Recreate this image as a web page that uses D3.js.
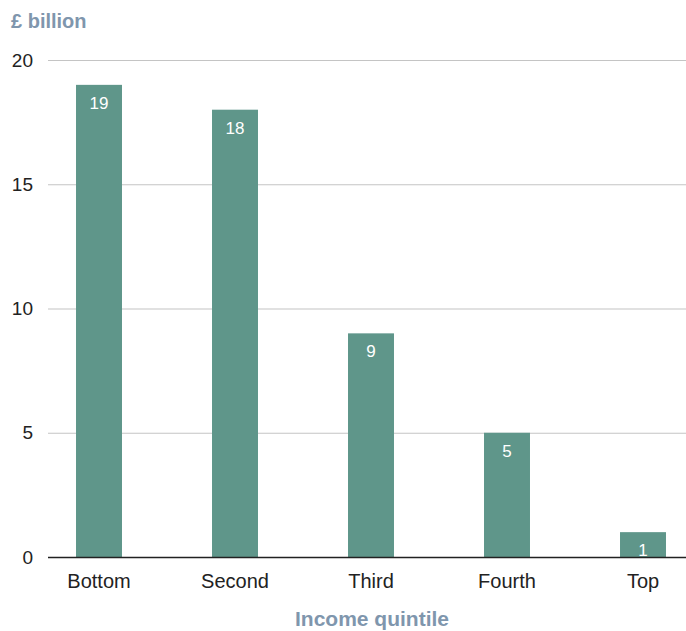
<!DOCTYPE html>
<html>
<head>
<meta charset="utf-8">
<script src="https://cdn.jsdelivr.net/npm/d3@7"></script>
<style>
  html, body { margin: 0; padding: 0; background: #fff; }
  svg { display: block; font-family: "Liberation Sans", Arial, Helvetica, sans-serif; }
</style>
</head>
<body>
<svg id="chart" width="686" height="631"></svg>
<script>
// Benefit spending by income quintile, £ billion
const quintiles = ["Bottom", "Second", "Third", "Fourth", "Top"];
const spending = [19, 18, 9, 5, 1];
const yTicks = [0, 5, 10, 15, 20];

const svg = d3.select("#chart");
const W = 686, H = 631;
const plot = { left: 48, right: 694, top: 60, bottom: 557 };

const x = d3.scaleBand()
  .domain(quintiles)
  .range([plot.left, plot.right])
  .paddingInner(0.662)
  .paddingOuter(0.206);

const y = d3.scaleLinear()
  .domain([0, 20])
  .range([plot.bottom, plot.top]);

// gridlines
svg.append("g")
  .selectAll("line")
  .data(yTicks.filter(d => d > 0))
  .join("line")
  .attr("x1", plot.left).attr("x2", W)
  .attr("y1", d => y(d) + 0.5).attr("y2", d => y(d) + 0.5)
  .attr("stroke", "#c4c4c4")
  .attr("stroke-width", 1.2);

// y tick labels
svg.append("g")
  .selectAll("text")
  .data(yTicks)
  .join("text")
  .attr("x", 33)
  .attr("y", d => y(d))
  .attr("dy", "0.35em")
  .attr("text-anchor", "end")
  .attr("font-size", 19)
  .attr("fill", "#222")
  .text(d => d);

// bars
svg.append("g")
  .selectAll("rect")
  .data(spending)
  .join("rect")
  .attr("x", (d, i) => x(quintiles[i]))
  .attr("width", x.bandwidth())
  .attr("y", d => y(d))
  .attr("height", d => y(0) - y(d))
  .attr("fill", "#5f968a");

// value labels inside bars
svg.append("g")
  .selectAll("text")
  .data(spending)
  .join("text")
  .attr("x", (d, i) => x(quintiles[i]) + x.bandwidth() / 2)
  .attr("y", d => y(d) + 24)
  .attr("text-anchor", "middle")
  .attr("font-size", 17)
  .attr("fill", "#fff")
  .text(d => d);

// baseline
svg.append("line")
  .attr("x1", plot.left).attr("x2", W)
  .attr("y1", y(0) + 0.5).attr("y2", y(0) + 0.5)
  .attr("stroke", "#222")
  .attr("stroke-width", 1.3);

// x category labels
svg.append("g")
  .selectAll("text")
  .data(quintiles)
  .join("text")
  .attr("x", d => x(d) + x.bandwidth() / 2)
  .attr("y", 588)
  .attr("text-anchor", "middle")
  .attr("font-size", 20)
  .attr("fill", "#222")
  .text(d => d);

// axis titles
svg.append("text")
  .attr("x", 11).attr("y", 28)
  .attr("font-size", 20)
  .attr("font-weight", "bold")
  .attr("fill", "#7f96ad")
  .text("£ billion");

svg.append("text")
  .attr("x", 372).attr("y", 626)
  .attr("text-anchor", "middle")
  .attr("font-size", 21)
  .attr("font-weight", "bold")
  .attr("fill", "#7f96ad")
  .text("Income quintile");
</script>
</body>
</html>
